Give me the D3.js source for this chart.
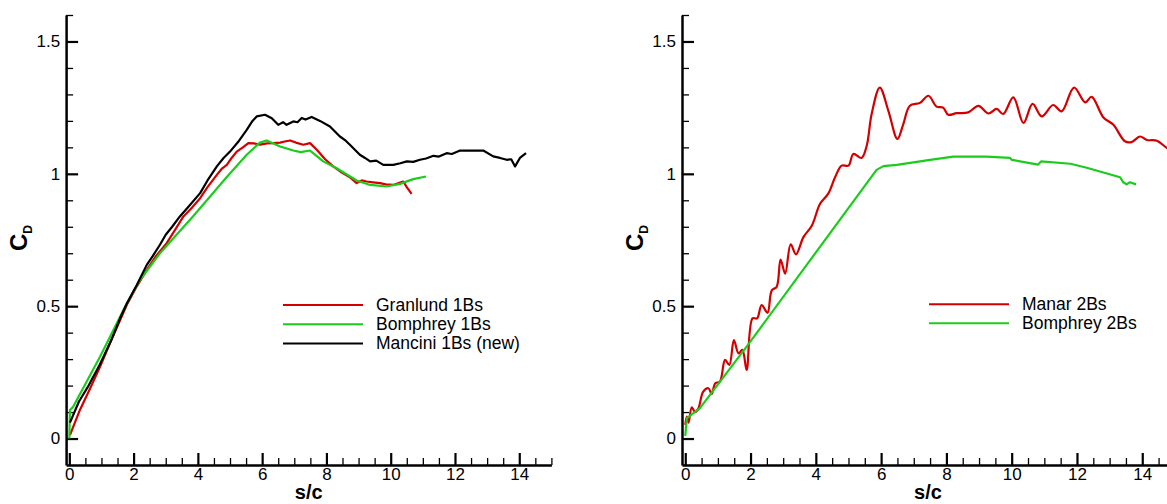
<!DOCTYPE html>
<html>
<head>
<meta charset="utf-8">
<script src="https://cdn.jsdelivr.net/npm/d3@7"></script>
<style>
	body { margin: 0; background: #fff; }
	svg { display: block; font-family: "Liberation Sans", Arial, sans-serif; }
	.tick text { font-size: 17px; fill: #000; }
	.domain, .tick line { stroke: #000; }
</style>
</head>
<body>
<div id="chart"></div>
<script>
// s/c vs C_D
var granlund1Bs = [[0.02,0.013],[0.33,0.108],[0.65,0.19],[0.955,0.271],[1.3,0.37],[1.79,0.505],[2.1,0.575],[2.41,0.637],[2.7,0.69],[3.03,0.738],[3.3,0.79],[3.55,0.839],[3.8,0.87],[4.07,0.908],[4.3,0.95],[4.59,0.996],[4.75,1.02],[4.9,1.034],[5.05,1.06],[5.21,1.084],[5.4,1.1],[5.57,1.116],[5.75,1.115],[5.93,1.11],[6.15,1.115],[6.35,1.116],[6.56,1.118],[6.7,1.122],[6.87,1.126],[7.05,1.118],[7.28,1.11],[7.49,1.116],[7.7,1.091],[7.96,1.055],[8.21,1.028],[8.48,1.005],[8.73,0.987],[8.94,0.965],[9.1,0.975],[9.25,0.971],[9.45,0.968],[9.67,0.965],[9.85,0.96],[10.08,0.958],[10.25,0.965],[10.39,0.971],[10.5,0.95],[10.65,0.924]];
var bomphrey1Bs = [[0,0],[0.02,0.108],[0.12,0.12],[0.955,0.309],[1.79,0.511],[2.2,0.599],[2.82,0.7],[3.86,0.841],[4.9,0.988],[5.52,1.072],[5.93,1.118],[6.14,1.126],[6.56,1.103],[6.97,1.088],[7.2,1.082],[7.49,1.088],[7.9,1.047],[8.32,1.021],[8.94,0.975],[9.36,0.958],[9.87,0.952],[10.29,0.962],[10.7,0.98],[11.1,0.99]];
var mancini1Bs = [[0.02,0.06],[0.3,0.14],[0.6,0.2],[0.95,0.28],[1.3,0.37],[1.6,0.46],[1.79,0.51],[2.1,0.58],[2.41,0.656],[2.6,0.69],[2.82,0.732],[3.0,0.77],[3.2,0.8],[3.44,0.839],[3.7,0.875],[4.07,0.927],[4.3,0.975],[4.59,1.028],[4.8,1.06],[5.0,1.084],[5.25,1.12],[5.52,1.166],[5.7,1.2],[5.83,1.217],[6.09,1.223],[6.3,1.21],[6.5,1.185],[6.65,1.195],[6.76,1.185],[6.97,1.198],[7.1,1.195],[7.23,1.211],[7.35,1.205],[7.54,1.215],[7.8,1.2],[8.11,1.179],[8.42,1.141],[8.6,1.125],[8.73,1.11],[9.04,1.072],[9.2,1.06],[9.36,1.047],[9.55,1.05],[9.77,1.034],[10.08,1.034],[10.3,1.04],[10.5,1.047],[10.7,1.045],[10.91,1.053],[11.1,1.058],[11.33,1.068],[11.5,1.065],[11.74,1.078],[11.9,1.075],[12.16,1.088],[12.5,1.088],[12.88,1.088],[13.19,1.066],[13.4,1.06],[13.61,1.053],[13.75,1.055],[13.87,1.028],[14.02,1.06],[14.21,1.078]];

var manar2Bs = [[0,0.052],[0.05,0.083],[0.1,0.06],[0.2,0.118],[0.3,0.1],[0.4,0.113],[0.55,0.177],[0.71,0.19],[0.81,0.168],[0.92,0.209],[1.06,0.215],[1.22,0.297],[1.35,0.278],[1.49,0.372],[1.63,0.322],[1.75,0.335],[1.88,0.259],[2.06,0.454],[2.2,0.454],[2.34,0.504],[2.52,0.475],[2.65,0.56],[2.8,0.573],[2.92,0.676],[3.06,0.623],[3.23,0.734],[3.39,0.696],[3.62,0.761],[3.88,0.805],[4.13,0.887],[4.38,0.925],[4.59,0.987],[4.79,1.031],[5.0,1.031],[5.15,1.075],[5.4,1.06],[5.56,1.107],[5.71,1.226],[5.96,1.326],[6.22,1.239],[6.5,1.132],[6.68,1.188],[6.88,1.257],[7.19,1.268],[7.45,1.295],[7.7,1.254],[7.9,1.25],[8.06,1.223],[8.31,1.229],[8.67,1.232],[8.98,1.257],[9.29,1.228],[9.54,1.245],[9.74,1.226],[10.05,1.289],[10.36,1.192],[10.64,1.264],[10.92,1.217],[11.27,1.26],[11.53,1.236],[11.91,1.326],[12.25,1.27],[12.45,1.291],[12.81,1.213],[13.11,1.186],[13.47,1.123],[13.67,1.12],[13.93,1.141],[14.14,1.128],[14.45,1.125],[14.75,1.098],[15,1.08]];
var bomphrey2Bs = [[0,0.01],[0.05,0.077],[0.45,0.115],[1.88,0.347],[5.86,1.015],[6.07,1.029],[6.48,1.034],[7.5,1.053],[8.21,1.065],[9.23,1.065],[9.95,1.06],[10.0,1.053],[10.81,1.035],[10.9,1.047],[11.8,1.038],[12.3,1.023],[13.32,0.987],[13.42,0.968],[13.52,0.96],[13.62,0.968],[13.81,0.96]];

var xMajor = [0, 2, 4, 6, 8, 10, 12, 14];
var yMajor = [0, 0.5, 1, 1.5];
var xMinor = [0.5,1,1.5,2.5,3,3.5,4.5,5,5.5,6.5,7,7.5,8.5,9,9.5,10.5,11,11.5,12.5,13,13.5,14.5,15];
var yMinor = [0.1,0.2,0.3,0.4,0.6,0.7,0.8,0.9,1.1,1.2,1.3,1.4,1.6];

var red = "#d40000", green = "#1ccc1c", black = "#000";

var panels = [
	{ x0: 66.1, x1: 551.4, series: [
		{ name: "Granlund 1Bs", data: granlund1Bs, color: red, smooth: false },
		{ name: "Bomphrey 1Bs", data: bomphrey1Bs, color: green, smooth: false },
		{ name: "Mancini 1Bs (new)", data: mancini1Bs, color: black, smooth: false }],
	  legend: { x: 283, y: 305, dy: 19.2, tx: 376 } },
	{ x0: 682.0, x1: 1174.9, series: [
		{ name: "Manar 2Bs", data: manar2Bs, color: red, smooth: true },
		{ name: "Bomphrey 2Bs", data: bomphrey2Bs, color: green, smooth: false }],
	  legend: { x: 929, y: 304.3, dy: 19, tx: 1022 } }
];

var svg = d3.select("#chart").append("svg")
	.attr("width", 1167)
	.attr("height", 504);

panels.forEach(function (p) {
	var x = d3.scaleLinear().domain([-0.1, 15]).range([p.x0, p.x1]);
	var y = d3.scaleLinear().domain([-0.1, 1.6]).range([465, 15]);
	var g = svg.append("g");

	// minor ticks
	g.append("g").attr("transform", "translate(0,465)")
		.call(d3.axisBottom(x).tickValues(xMinor).tickSize(-7).tickFormat(""))
		.call(function (a) { a.select(".domain").remove(); a.selectAll("line").attr("stroke-width", 1.3); });
	g.append("g").attr("transform", "translate(" + p.x0 + ",0)")
		.call(d3.axisLeft(y).tickValues(yMinor).tickSize(-7).tickFormat(""))
		.call(function (a) { a.select(".domain").remove(); a.selectAll("line").attr("stroke-width", 1.3); });

	// major ticks + labels
	g.append("g").attr("transform", "translate(0,465)")
		.call(d3.axisBottom(x).tickValues(xMajor).tickSizeInner(-12).tickSizeOuter(0).tickPadding(3).tickFormat(String))
		.call(function (a) {
			a.select(".domain").attr("stroke-width", 2.5);
			a.selectAll("line").attr("stroke-width", 2.2);
			a.selectAll("text").attr("font-family", "Liberation Sans, Arial, sans-serif");
		});
	g.append("g").attr("transform", "translate(" + p.x0 + ",0)")
		.call(d3.axisLeft(y).tickValues(yMajor).tickSizeInner(-12).tickSizeOuter(0).tickPadding(6).tickFormat(String))
		.call(function (a) {
			a.select(".domain").attr("stroke-width", 2.5);
			a.selectAll("line").attr("stroke-width", 2.2);
			a.selectAll("text").attr("font-family", "Liberation Sans, Arial, sans-serif");
		});

	// axis titles
	g.append("text")
		.attr("x", (p.x0 + Math.min(p.x1, 1174)) / 2)
		.attr("y", 499)
		.attr("text-anchor", "middle")
		.attr("font-size", 20)
		.attr("font-weight", "bold")
		.text("s/c");

	var yt = g.append("text")
		.attr("transform", "translate(" + (p.x0 - 39) + ",238) rotate(-90)")
		.attr("text-anchor", "middle")
		.attr("font-size", 24)
		.attr("font-weight", "bold");
	yt.append("tspan").text("C");
	yt.append("tspan").attr("font-size", 12).attr("dy", 5).text("D");

	p.series.forEach(function (s, i) {
		var line = d3.line()
			.x(function (d) { return x(d[0]); })
			.y(function (d) { return y(d[1]); })
			.curve(s.smooth ? d3.curveCatmullRom.alpha(0.5) : d3.curveLinear);

		g.append("path")
			.datum(s.data)
			.attr("fill", "none")
			.attr("stroke", s.color)
			.attr("stroke-width", 2.2)
			.attr("stroke-linejoin", "round")
			.attr("d", line);

		var ly = p.legend.y + i * p.legend.dy;
		g.append("line")
			.attr("x1", p.legend.x).attr("x2", p.legend.x + 80)
			.attr("y1", ly).attr("y2", ly)
			.attr("stroke", s.color)
			.attr("stroke-width", 2);
		g.append("text")
			.attr("x", p.legend.tx)
			.attr("y", ly + 6)
			.attr("font-size", 17.5)
			.text(s.name);
	});
});
</script>
</body>
</html>
